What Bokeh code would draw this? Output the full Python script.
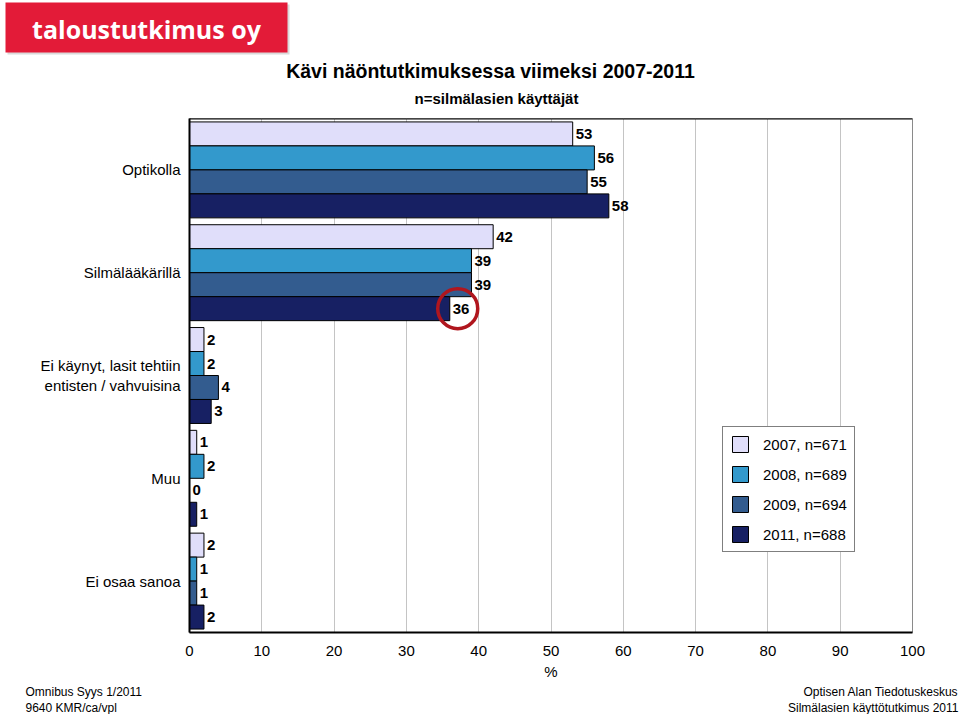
from bokeh.plotting import figure
from bokeh.layouts import column
from bokeh.models import (ColumnDataSource, Range1d, FixedTicker, Span,
                          Legend, LegendItem)
from bokeh.transform import dodge
from bokeh.core.properties import value
from bokeh.embed import file_html
from bokeh.resources import INLINE

# ---------------- data ----------------
categories = ["Optikolla", "Silmälääkärillä",
              "Ei käynyt, lasit tehtiin\nentisten / vahvuisina", "Muu", "Ei osaa sanoa"]
series_names = ["2007, n=671", "2008, n=689", "2009, n=694", "2011, n=688"]
v2007 = [53, 42, 2, 1, 2]
v2008 = [56, 39, 2, 2, 1]
v2009 = [55, 39, 4, 0, 1]
v2011 = [58, 36, 3, 1, 2]
series_values = [v2007, v2008, v2009, v2011]
colors = ["#E0DEFA", "#3399CC", "#335C8F", "#172063"]
x_ticks = list(range(0, 101, 10))

title = "Kävi näöntutkimuksessa viimeksi 2007-2011"
subtitle = "n=silmälasien käyttäjät"
logo_text = "taloustutkimus oy"
footer_left = ["Omnibus Syys 1/2011", "9640 KMR/ca/vpl"]
footer_right = ["Optisen Alan Tiedotuskeskus", "Silmälasien käyttötutkimus 2011"]
highlight = (1, 3)  # Silmälääkärillä, 2011

# ---------------- layout ----------------
W = 960
HEAD_H, MAIN_H, FOOT_H = 114, 572, 28
LEFT, RIGHT, TOP, BOTTOM = 189, 48, 4, 54
FONT = "Liberation Sans"
bar_h = 0.2333


def blank(h):
    f = figure(width=W, height=h, output_backend="svg", toolbar_location=None,
               x_range=Range1d(0, W), y_range=Range1d(h, 0),
               x_axis_type=None, y_axis_type=None, frame_align=False,
               min_border_left=0, min_border_right=0, min_border_top=0, min_border_bottom=0)
    f.outline_line_color = None
    f.grid.visible = False
    f.background_fill_color = "white"
    f.border_fill_color = "white"
    return f


# ---------------- header ----------------
head = blank(HEAD_H)
head.quad(left=[7], right=[289], top=[4], bottom=[54], fill_color="#DADADA",
          line_color=None)
head.quad(left=[5], right=[287], top=[2], bottom=[52], fill_color="#E31B38",
          line_color=None)
head.text(x=[146], y=[28], text=[logo_text], text_align="center", text_baseline="middle",
          text_font=value("Open Sans"), text_font_style="bold", text_font_size="25px",
          text_color="white")
head.text(x=[490], y=[70], text=[title], text_align="center", text_baseline="middle",
          text_font=value(FONT), text_font_style="bold", text_font_size="19.5px",
          text_color="black")
head.text(x=[496], y=[98], text=[subtitle], text_align="center", text_baseline="middle",
          text_font=value(FONT), text_font_style="bold", text_font_size="15px",
          text_color="black")

# ---------------- main chart ----------------
p = figure(width=W, height=MAIN_H, output_backend="svg", toolbar_location=None,
           x_range=Range1d(0, 100), y_range=Range1d(len(categories), 0),
           frame_align=False,
           min_border_left=LEFT, min_border_right=RIGHT,
           min_border_top=TOP, min_border_bottom=BOTTOM)
p.background_fill_color = "white"
p.border_fill_color = "white"
p.outline_line_color = "#8A8A8A"
p.outline_line_width = 1

centers = [i + 0.5 for i in range(len(categories))]

renderers = []
for j, (vals, col, name) in enumerate(zip(series_values, colors, series_names)):
    src = ColumnDataSource(dict(y=centers, v=vals, lbl=[str(v) for v in vals]))
    off = (j - 1.5) * bar_h
    r = p.hbar(y=dodge("y", off, range=p.y_range), left=0, right="v", height=bar_h,
               source=src, fill_color=col, line_color="black", line_width=1)
    renderers.append(r)
    p.text(x="v", y=dodge("y", off, range=p.y_range), text="lbl", source=src,
           x_offset=3, text_baseline="middle", text_align="left",
           text_font=value(FONT), text_font_size="15px", text_font_style="bold",
           text_color="black")

# highlight circle around a label
gi, sj = highlight
p.circle(x=[series_values[sj][gi] + 1.1], y=[centers[gi] + (sj - 1.5) * bar_h],
         radius=20, radius_units="screen", fill_color=None,
         line_color="#B0161E", line_width=3.5)

# top border in black
p.add_layout(Span(location=0, dimension="width", line_color="black", line_width=2))

# axes
p.xaxis.ticker = FixedTicker(ticks=x_ticks)
p.xaxis.axis_label = "%"
p.xaxis.axis_label_text_font = FONT
p.xaxis.axis_label_text_font_size = "15px"
p.xaxis.axis_label_text_font_style = "normal"
p.xaxis.axis_label_text_color = "black"
p.xaxis.axis_label_standoff = 4
p.xaxis.major_label_text_font = FONT
p.xaxis.major_label_text_font_size = "15px"
p.xaxis.major_label_text_color = "black"
p.xaxis.major_label_standoff = 7
p.xaxis.major_tick_line_color = None
p.xaxis.minor_tick_line_color = None
p.xaxis.axis_line_color = "black"
p.xaxis.axis_line_width = 2

p.yaxis.ticker = FixedTicker(ticks=centers)
p.yaxis.major_label_overrides = {c: t for c, t in zip(centers, categories)}
p.yaxis.major_label_text_font = FONT
p.yaxis.major_label_text_font_size = "15px"
p.yaxis.major_label_text_color = "black"
p.yaxis.major_label_standoff = 3
p.yaxis.major_tick_line_color = None
p.yaxis.minor_tick_line_color = None
p.yaxis.axis_line_color = "black"
p.yaxis.axis_line_width = 2

p.xgrid.ticker = FixedTicker(ticks=x_ticks[1:])
p.xgrid.grid_line_color = "#C4C4C4"
p.xgrid.grid_line_width = 1
p.ygrid.grid_line_color = None

legend = Legend(items=[LegendItem(label=n, renderers=[r]) for n, r in zip(series_names, renderers)],
                location=(533, 80), orientation="vertical",
                glyph_width=20, glyph_height=20, spacing=10, padding=7,
                label_standoff=13, label_text_font=FONT, label_text_font_size="15px",
                label_text_color="black", label_height=20,
                border_line_color="black", border_line_width=1,
                background_fill_color="white", background_fill_alpha=1.0)
p.add_layout(legend, "center")

# ---------------- footer ----------------
foot = blank(FOOT_H)
for k, t in enumerate(footer_left):
    foot.text(x=[25], y=[5 + 16 * k], text=[t], text_align="left", text_baseline="middle",
              text_font=value(FONT), text_font_size="12px", text_color="black")
for k, t in enumerate(footer_right):
    foot.text(x=[958], y=[5 + 16 * k], text=[t], text_align="right", text_baseline="middle",
              text_font=value(FONT), text_font_size="12px", text_color="black")

layout = column(head, p, foot, spacing=0)
open("out.html", "w").write(file_html(layout, INLINE))
